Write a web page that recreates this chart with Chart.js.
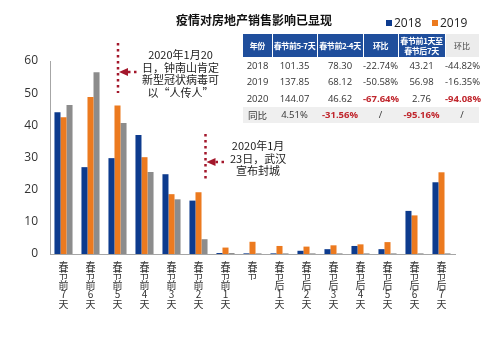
<!DOCTYPE html>
<html>
<head>
<meta charset="utf-8">
<script src="https://cdn.jsdelivr.net/npm/chart.js@4.4.1/dist/chart.umd.min.js"></script>
<style>
    body { margin: 0; background: #fff; font-family: "Noto Sans CJK SC", "Noto Sans", sans-serif; }
    #wrap { position: relative; width: 500px; height: 337px; overflow: hidden; }
    #chart_vendas { position: absolute; left: 0; top: 0; }
    .titulo { position: absolute; left: 176px; top: 11px; font-size: 12px; font-weight: bold; color: #111; white-space: nowrap; }
    .legenda { position: absolute; top: 14px; font-size: 12px; color: #222; font-family: "Open Sans", sans-serif; }
    .legenda span { display: inline-block; width: 6px; height: 6px; margin-right: 2px; vertical-align: 1px; }
    .nota { position: absolute; font-size: 11px; line-height: 12.5px; color: #222; text-align: center; white-space: nowrap; }
    table { position: absolute; left: 243px; top: 34px; width: 236px; table-layout: fixed; border-collapse: collapse; font-size: 9.5px; color: #333; font-family: "Open Sans", "Noto Sans CJK SC", sans-serif; }
    th { background: #1f4e9c; color: #fff; font-size: 8px; font-weight: bold; height: 23px; padding: 0; line-height: 9.5px; border-right: 1px solid #fff; white-space: nowrap; letter-spacing: -0.4px; overflow: hidden; font-family: "Noto Sans CJK SC", sans-serif; }
    th.claro { background: #ececec; color: #444; font-weight: normal; letter-spacing: 0; }
    td { text-align: center; height: 16.5px; padding: 0; white-space: nowrap; }
    td.vermelho { color: #c0262d; font-weight: bold; }
    tr.cinza td { background: #efefef; }
</style>
</head>
<body>
<div id="wrap">
    <canvas id="chart_vendas" width="500" height="337"></canvas>
    <div class="titulo">疫情对房地产销售影响已显现</div>
    <div class="legenda" style="left:386px"><span style="background:#0d3b8e"></span>2018</div>
    <div class="legenda" style="left:432px"><span style="background:#ec7a1f"></span>2019</div>
    <div class="nota" style="left:142px; top:48px">2020年1月20<br>日，钟南山肯定<br>新型冠状病毒可<br>以“人传人”</div>
    <div class="nota" style="left:230px; top:139px">2020年1月<br>23日，武汉<br>宣布封城</div>
    <table>
        <colgroup>
            <col style="width:29px"><col style="width:45px"><col style="width:46px">
            <col style="width:35px"><col style="width:47px"><col style="width:34px">
        </colgroup>
        <tr>
            <th>年份</th>
            <th>春节前5-7天</th>
            <th>春节前2-4天</th>
            <th>环比</th>
            <th>春节前1天至<br>春节后7天</th>
            <th class="claro">环比</th>
        </tr>
        <tr><td>2018</td><td>101.35</td><td>78.30</td><td>-22.74%</td><td>43.21</td><td>-44.82%</td></tr>
        <tr><td>2019</td><td>137.85</td><td>68.12</td><td>-50.58%</td><td>56.98</td><td>-16.35%</td></tr>
        <tr><td>2020</td><td>144.07</td><td>46.62</td><td class="vermelho">-67.64%</td><td>2.76</td><td class="vermelho">-94.08%</td></tr>
        <tr class="cinza"><td>同比</td><td>4.51%</td><td class="vermelho">-31.56%</td><td>/</td><td class="vermelho">-95.16%</td><td>/</td></tr>
    </table>
</div>
<script>
var categorias = ['春节前7天', '春节前6天', '春节前5天', '春节前4天', '春节前3天', '春节前2天', '春节前1天',
    '春节', '春节后1天', '春节后2天', '春节后3天', '春节后4天', '春节后5天', '春节后6天', '春节后7天'];
var vendas_2018 = [44.1, 27.0, 29.8, 37.0, 24.8, 16.6, 0.3, 0.2, 0.2, 1.0, 1.5, 2.5, 1.5, 13.4, 22.3];
var vendas_2019 = [42.5, 48.8, 46.2, 30.1, 18.6, 19.2, 2.0, 3.8, 2.5, 2.3, 2.7, 3.0, 3.7, 12.0, 25.4];
var vendas_2020 = [46.3, 56.5, 40.7, 25.5, 17.0, 4.6, 0.3, 0.2, 0.2, 0.2, 0.2, 0.2, 0.2, 0.2, 0.2];
var ticks_y = [0, 10, 20, 30, 40, 50, 60];

// linhas pontilhadas com seta
var pluginNotas = {
    id: 'notas',
    afterDatasetsDraw: function (chart) {
        var ctx = chart.ctx;
        var x = chart.scales.x;
        var linhas = [
            { x: x.getPixelForValue(2) + 0.5, y1: 43, y2: 93, ya: 72 },
            { x: x.getPixelForValue(5) + 7, y1: 134, y2: 182, ya: 162 }
        ];
        ctx.save();
        ctx.strokeStyle = '#a3172b';
        ctx.fillStyle = '#a3172b';
        ctx.lineWidth = 2.5;
        ctx.setLineDash([2.5, 3.5]);
        linhas.forEach(function (l) {
            ctx.beginPath();
            ctx.moveTo(l.x, l.y1);
            ctx.lineTo(l.x, l.y2);
            ctx.stroke();
            ctx.beginPath();
            ctx.moveTo(l.x + 10, l.ya);
            ctx.lineTo(l.x + 22, l.ya);
            ctx.stroke();
            ctx.beginPath();
            ctx.moveTo(l.x + 1, l.ya);
            ctx.lineTo(l.x + 10, l.ya - 4);
            ctx.lineTo(l.x + 10, l.ya + 4);
            ctx.closePath();
            ctx.fill();
        });
        ctx.restore();
    }
};

const ctxVendas = document.getElementById('chart_vendas');

new Chart(ctxVendas, {
    type: 'bar',
    data: {
        labels: categorias.map(function (c) { return c.split(''); }),
        datasets: [{
            label: '2018',
            data: vendas_2018,
            backgroundColor: '#0d3b8e'
        }, {
            label: '2019',
            data: vendas_2019,
            backgroundColor: '#ec7a1f'
        }, {
            label: '2020',
            data: vendas_2020,
            backgroundColor: '#8c8c8c'
        }]
    },
    options: {
        responsive: false,
        animation: false,
        layout: {
            padding: { top: 61, left: 15, right: 45, bottom: 0 }
        },
        datasets: {
            bar: { categoryPercentage: 0.67, barPercentage: 1.0 }
        },
        scales: {
            x: {
                grid: { display: false, drawTicks: false },
                border: { color: '#a6a6a6' },
                ticks: {
                    color: '#333',
                    maxRotation: 0,
                    autoSkip: false,
                    padding: 7,
                    font: { size: 10, lineHeight: 0.95, family: 'Noto Sans CJK SC' }
                },
                afterFit: function (s) { s.height = 83; }
            },
            y: {
                min: 0,
                max: 60,
                afterBuildTicks: function (s) { s.ticks = ticks_y.map(function (v) { return { value: v }; }); },
                grid: { display: false, drawTicks: false },
                border: { color: '#a6a6a6' },
                ticks: {
                    color: '#333',
                    padding: 12,
                    font: { size: 12, family: 'Open Sans' }
                },
                afterFit: function (s) { s.width = 35; }
            }
        },
        plugins: {
            legend: { display: false },
            tooltip: { enabled: false }
        }
    },
    plugins: [pluginNotas]
});
</script>
</body>
</html>
